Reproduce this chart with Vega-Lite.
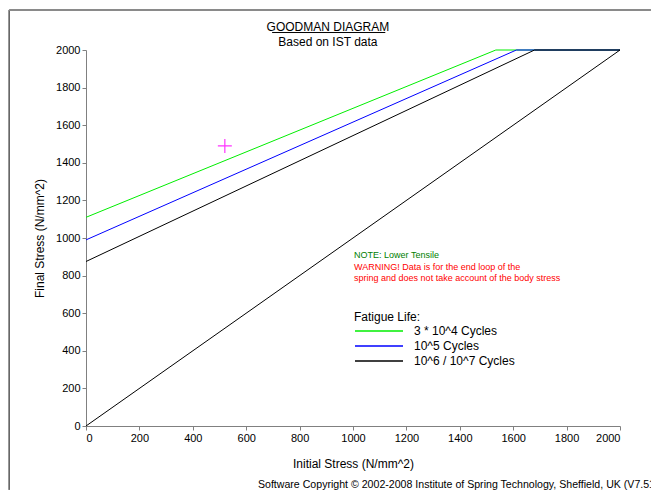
{
  "$schema": "https://vega.github.io/schema/vega-lite/v6.json",
  "width": 534,
  "height": 376,
  "autosize": {"type": "none"},
  "padding": {"left": 86, "top": 50, "right": 31, "bottom": 64},
  "background": "white",
  "config": {
    "font": "Liberation Sans",
    "view": {"stroke": null},
    "axis": {
      "domainColor": "#808080",
      "tickColor": "#808080",
      "tickSize": 4,
      "grid": false,
      "labelFont": "Liberation Sans",
      "labelFontSize": 11,
      "labelColor": "#000000",
      "labelOverlap": false,
      "format": "d",
      "titleFont": "Liberation Sans",
      "titleFontSize": 12,
      "titleFontWeight": "normal",
      "titleColor": "#000000"
    }
  },
  "datasets": {
    "lines": [
      {"series": "3 * 10^4 Cycles", "part": "a", "initial": 0, "final": 1110},
      {"series": "3 * 10^4 Cycles", "part": "a", "initial": 1535, "final": 2000},
      {"series": "3 * 10^4 Cycles", "part": "a", "initial": 2000, "final": 2000},
      {"series": "10^5 Cycles", "part": "a", "initial": 0, "final": 990},
      {"series": "10^5 Cycles", "part": "a", "initial": 1612, "final": 2000},
      {"series": "10^5 Cycles", "part": "a", "initial": 2000, "final": 2000},
      {"series": "10^6 / 10^7 Cycles", "part": "a", "initial": 0, "final": 875},
      {"series": "10^6 / 10^7 Cycles", "part": "a", "initial": 1680, "final": 2000},
      {"series": "10^6 / 10^7 Cycles", "part": "a", "initial": 2000, "final": 2000},
      {"series": "10^6 / 10^7 Cycles", "part": "b", "initial": 0, "final": 0},
      {"series": "10^6 / 10^7 Cycles", "part": "b", "initial": 2000, "final": 2000}
    ],
    "point": [{"initial": 520, "final": 1490}],
    "titles": [
      {"initial": 906, "final": 2122, "text": "GOODMAN DIAGRAM"},
      {"initial": 906, "final": 2043, "text": "Based on IST data"}
    ],
    "note": [{"initial": 1004, "final": 910, "text": "NOTE: Lower Tensile"}],
    "warning": [
      {"initial": 1004, "final": 848, "text": "WARNING! Data is for the end loop of the"},
      {"initial": 1004, "final": 789, "text": "spring and does not take account of the body stress"}
    ],
    "copyright": [{"initial": 644, "final": -312, "text": "Software Copyright © 2002-2008 Institute of Spring Technology, Sheffield, UK (V7.51)"}],
    "frameLeft": [{"x": -288, "y": 2213, "y2": -340}],
    "frameTop": [{"x": -288, "x2": 2116, "y": 2213}],
    "underline": [{"x": 697, "x2": 1121, "y": 2093}]
  },
  "layer": [
    {
      "data": {"name": "lines"},
      "mark": {"type": "line", "strokeWidth": 1},
      "encoding": {
        "x": {
          "field": "initial", "type": "quantitative",
          "scale": {"domain": [0, 2000], "nice": false, "zero": true},
          "axis": {"title": "Initial Stress (N/mm^2)", "values": [0, 200, 400, 600, 800, 1000, 1200, 1400, 1600, 1800, 2000], "titlePadding": 15, "labelPadding": 2}
        },
        "y": {
          "field": "final", "type": "quantitative",
          "scale": {"domain": [0, 2000], "nice": false},
          "axis": {"title": "Final Stress (N/mm^2)", "values": [0, 200, 400, 600, 800, 1000, 1200, 1400, 1600, 1800, 2000], "tickCount": 11, "labelOverlap": false, "titlePadding": 9, "labelPadding": 2}
        },
        "color": {
          "field": "series", "type": "nominal",
          "scale": {"domain": ["3 * 10^4 Cycles", "10^5 Cycles", "10^6 / 10^7 Cycles"], "range": ["#00ee00", "#0000ff", "#000000"]},
          "legend": {
            "title": "Fatigue Life:",
            "orient": "none",
            "legendX": 268,
            "legendY": 262,
            "symbolType": "M-1,0H7",
            "symbolSize": 144,
            "symbolStrokeWidth": 1.5,
            "titleFont": "Liberation Sans",
            "titleFontSize": 12,
            "titleFontWeight": "normal",
            "titleColor": "#000000",
            "titlePadding": 0,
            "labelFont": "Liberation Sans",
            "labelFontSize": 12,
            "labelColor": "#000000",
            "labelOffset": 46,
            "rowPadding": 2
          }
        },
        "detail": {"field": "part"},
        "order": {"field": "initial", "type": "quantitative"}
      }
    },
    {
      "data": {"name": "frameLeft"},
      "mark": {"type": "rule", "color": "#000000", "strokeWidth": 1, "clip": false},
      "encoding": {
        "x": {"field": "x", "type": "quantitative"},
        "y": {"field": "y", "type": "quantitative"},
        "y2": {"field": "y2"}
      }
    },
    {
      "data": {"name": "frameTop"},
      "mark": {"type": "rule", "color": "#8a8a8a", "strokeWidth": 2, "clip": false},
      "encoding": {
        "x": {"field": "x", "type": "quantitative"},
        "x2": {"field": "x2"},
        "y": {"field": "y", "type": "quantitative"}
      }
    },
    {
      "data": {"name": "underline"},
      "mark": {"type": "rule", "color": "#000000", "strokeWidth": 1, "clip": false},
      "encoding": {
        "x": {"field": "x", "type": "quantitative"},
        "x2": {"field": "x2"},
        "y": {"field": "y", "type": "quantitative"}
      }
    },
    {
      "data": {"name": "titles"},
      "mark": {"type": "text", "align": "center", "baseline": "middle", "fontSize": 12, "color": "#000000", "font": "Liberation Sans", "clip": false},
      "encoding": {
        "x": {"field": "initial", "type": "quantitative"},
        "y": {"field": "final", "type": "quantitative"},
        "text": {"field": "text"}
      }
    },
    {
      "data": {"name": "point"},
      "mark": {"type": "point", "shape": "M-1,0H1M0,-1V1", "size": 196, "stroke": "#ff33ff", "strokeWidth": 1.2, "filled": false, "opacity": 1},
      "encoding": {
        "x": {"field": "initial", "type": "quantitative"},
        "y": {"field": "final", "type": "quantitative"}
      }
    },
    {
      "data": {"name": "note"},
      "mark": {"type": "text", "align": "left", "baseline": "middle", "fontSize": 9, "color": "#008000", "font": "Liberation Sans"},
      "encoding": {
        "x": {"field": "initial", "type": "quantitative"},
        "y": {"field": "final", "type": "quantitative"},
        "text": {"field": "text"}
      }
    },
    {
      "data": {"name": "warning"},
      "mark": {"type": "text", "align": "left", "baseline": "middle", "fontSize": 9, "color": "#ff0000", "font": "Liberation Sans"},
      "encoding": {
        "x": {"field": "initial", "type": "quantitative"},
        "y": {"field": "final", "type": "quantitative"},
        "text": {"field": "text"}
      }
    },
    {
      "data": {"name": "copyright"},
      "mark": {"type": "text", "align": "left", "baseline": "middle", "fontSize": 10.6, "color": "#000000", "font": "Liberation Sans", "clip": false},
      "encoding": {
        "x": {"field": "initial", "type": "quantitative"},
        "y": {"field": "final", "type": "quantitative"},
        "text": {"field": "text"}
      }
    }
  ]
}
